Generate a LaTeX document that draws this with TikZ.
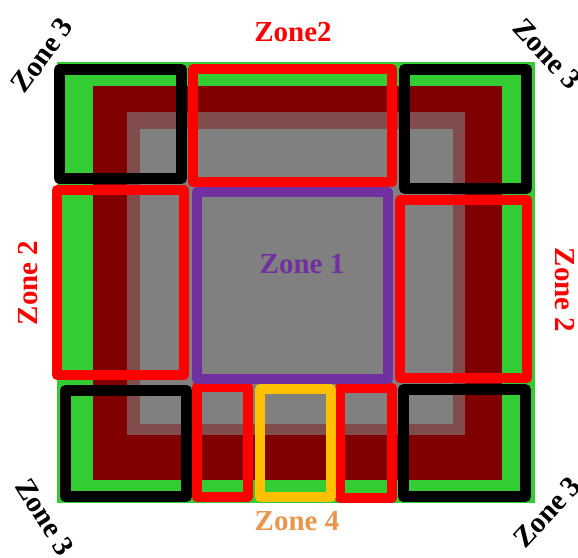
\documentclass[tikz,border=0pt]{standalone}
\usepackage{fontspec}
\setmainfont{Liberation Serif}
\definecolor{zgreen}{HTML}{33CC33}
\definecolor{zmaroon}{HTML}{800000}
\definecolor{zpurple}{HTML}{7030A0}
\definecolor{zyellow}{HTML}{FFC000}
\definecolor{zorange}{HTML}{E9964F}
\tikzset{
  zonelabel/.style={font=\fontsize{29}{31}\selectfont\bfseries, inner sep=0pt},
  zoneframe/.style={line width=10pt, line join=round},
}
\begin{document}
\begin{tikzpicture}[x=1pt, y=-1pt]
\useasboundingbox (0,0) rectangle (578,557);

% Layers
\fill[zgreen] (57,62) rectangle (535,503);
\fill[zmaroon] (93,86) rectangle (502,480);
\fill[gray, opacity=0.6] (127,112) rectangle (465,435);
\fill[gray] (140,129) rectangle (453,424);

% Zone 2 frames
\foreach \xa/\ya/\xb/\yb in {193/69/392/182, 57/190/184/375, 400/200/527/378, 197/387/248/497, 340/388/392/498} {
    \draw[zoneframe, red] (\xa,\ya) rectangle (\xb,\yb);
}

% Zone 1 and Zone 4 frames
\draw[zoneframe, zpurple] (197,192) rectangle (388,379);
\draw[zoneframe, zyellow] (260,389) rectangle (331,497);

% Zone 3 corner frames
\foreach \xa/\ya/\xb/\yb in {59.5/69.5/181.5/178.5, 404.5/69.5/526.5/188.5, 65.5/390.5/186.5/496.5, 403.5/389.5/525.5/496.5} {
    \draw[zoneframe, black, line width=11pt] (\xa,\ya) rectangle (\xb,\yb);
}

% Labels
\node[zonelabel, zpurple] (zone1) at (302,264) {Zone 1};
\node[zonelabel, red] (zone2top) at (293,32) {Zone2};
\node[zonelabel, red, rotate=90] (zone2left) at (28,283) {Zone 2};
\node[zonelabel, red, rotate=-90] (zone2right) at (565,290) {Zone 2};
\node[zonelabel, zorange] (zone4) at (297,521) {Zone 4};
\node[zonelabel, rotate=54] (zone3tl) at (42,55) {Zone 3};
\node[zonelabel, rotate=-47] (zone3tr) at (547,54) {Zone 3};
\node[zonelabel, rotate=-58] (zone3bl) at (45,517) {Zone 3};
\node[zonelabel, rotate=47] (zone3br) at (547,512) {Zone 3};
\end{tikzpicture}
\end{document}
